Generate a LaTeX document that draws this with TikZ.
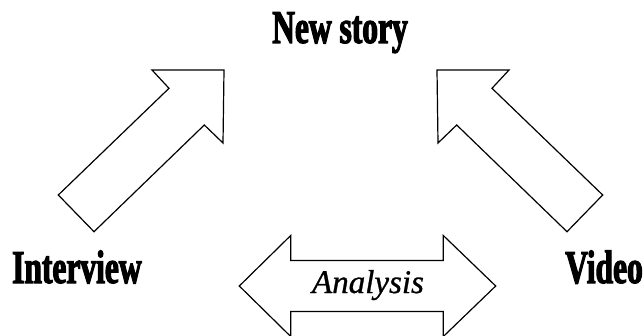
\documentclass[tikz,border=0pt]{standalone}
\usepackage{fontspec}
\setmainfont{Liberation Serif}
\newfontfamily\heavy[FakeStretch=0.67,FakeBold=2.4]{Liberation Serif Bold}
\newfontfamily\labelit[FakeBold=0.8]{Liberation Serif Italic}
\begin{document}
\begin{tikzpicture}[x=1pt,y=-1pt,
  blockarrow/.style={draw=black,line width=1.2pt,line join=miter,fill=white},
  bigtitle/.style={font=\heavy\fontsize{47}{47}\selectfont,inner sep=0pt},
  arrowlabel/.style={font=\labelit\fontsize{33}{33}\selectfont,inner sep=0pt}]
\useasboundingbox (0,0) rectangle (644,336);
\clip (0,0) rectangle (644,336);
% left arrow
\draw[blockarrow] (224,70) -- (152,70) -- (169,88.3) -- (58.3,195) -- (94,231.7)
  -- (204.3,125) -- (223,143) -- cycle;
% right arrow
\draw[blockarrow] (437,70) -- (509,70) -- (492,88.3) -- (602.7,195) -- (567,231.7)
  -- (456.7,125) -- (438,143) -- cycle;
% double arrow
\draw[blockarrow] (239.3,286) -- (290.7,235.5) -- (290.7,260.5) -- (443.3,260.5)
  -- (443.3,235.5) -- (495.7,286) -- (443.3,336.5) -- (443.3,311.5)
  -- (290.7,311.5) -- (290.7,336.5) -- cycle;
\node[bigtitle,anchor=base] (news) at (340,43) {New story};
\node[bigtitle,anchor=base west] (interview) at (12,283) {Interview};
\node[bigtitle,anchor=base east] (video) at (643,283) {Video};
\node[arrowlabel,anchor=base] (analysis) at (368,293) {Analysis};
\end{tikzpicture}
\end{document}
